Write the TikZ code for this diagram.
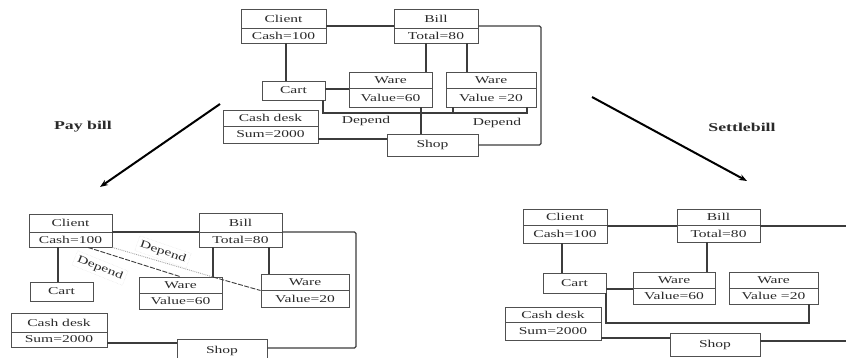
\documentclass[tikz,border=0pt]{standalone}
\usepackage{fontspec}
\setmainfont[FakeStretch=1.48]{Liberation Serif}
\usetikzlibrary{fit,arrows.meta}
\definecolor{ln}{HTML}{3C3C3C}
\definecolor{bx}{HTML}{505050}
\definecolor{tx}{HTML}{2A2A2A}
\tikzset{
 box/.style={draw=bx, line width=0.9pt, inner sep=0pt, rectangle},
 divl/.style={draw=bx, line width=0.8pt},
 txt/.style={inner sep=0pt, text=tx, font=\fontsize{10.5}{12}\selectfont},
 conn/.style={draw=ln, line width=1.2pt},
 bigarrow/.style={draw=black, line width=2pt, -{Stealth[length=8pt,width=6pt]}},
 lbl/.style={inner sep=0pt, text=tx, font=\fontsize{12}{14}\selectfont\bfseries},
 dep/.style={txt, fill=white, inner sep=2pt},
 deprot/.style={txt, draw=gray!25, densely dotted, inner sep=3pt},
 gdot/.style={draw=gray!70, line width=0.9pt, densely dotted},
 ddash/.style={draw=ln, line width=0.9pt, dash pattern=on 5pt off 1.5pt},
}
\newcommand\clsbox[8]{%
 \node[box, fit={(#2,#3)(#4,#6)}] (#1) {};
 \draw[divl] (#2,#5) -- (#4,#5);
 \node[txt] (#1-t) at ({(#2+#4)/2},{(#3+#5)/2}) {#7};
 \node[txt] (#1-b) at ({(#2+#4)/2},{(#5+#6)/2}) {#8};
}
\newcommand\onebox[6]{%
 \node[box, fit={(#2,#3)(#4,#5)}] (#1) {};
 \node[txt] (#1-t) at (#1.center) {#6};
}
\begin{document}
\begin{tikzpicture}[x=1pt,y=-1pt]
\useasboundingbox (0,0) rectangle (846,358);
\clip (0,0) rectangle (846,358);
\fill[white] (0,0) rectangle (846,358);

% ---------------- top diagram ----------------
\clsbox{c1}{241}{9}{326}{28}{43}{Client}{Cash=100}
\clsbox{b1}{394}{9}{478}{28}{43}{Bill}{Total=80}
\onebox{cart1}{262}{81}{325}{100}{Cart}
\clsbox{w1a}{349}{72}{432}{88}{107}{Ware}{Value=60}
\clsbox{w1b}{446}{72}{536}{88}{107}{Ware}{Value =20}
\clsbox{cd1}{223}{110}{318}{126}{143}{Cash desk}{Sum=2000}
\onebox{s1}{387}{134}{478}{156}{Shop}

\coordinate (r1) at (541,0);
\draw[conn] (c1.east) -- (b1.west);
\draw[conn, rounded corners=1.5pt] (b1.east) -- (b1.east -| r1) -- (s1.east -| r1) -- (s1.east);
\coordinate (v1) at (286,0);
\draw[conn] (v1 |- c1.south) -- (v1 |- cart1.north);
\coordinate (v2) at (426,0);
\draw[conn] (v2 |- b1.south) -- (v2 |- w1a.north);
\coordinate (v3) at (467,0);
\draw[conn] (v3 |- b1.south) -- (v3 |- w1b.north);
\coordinate (h1) at (0,89);
\draw[conn] (cart1.east |- h1) -- (w1a.west |- h1);
\coordinate (k1) at (323,0);
\coordinate (k2) at (527,0);
\coordinate (k3) at (453,0);
\coordinate (hb1) at (0,113);
\draw[conn] (k1 |- cart1.south) -- (k1 |- hb1) -- (k2 |- hb1) -- (k2 |- w1b.south);
\draw[conn] (k3 |- w1b.south) -- (k3 |- hb1);
\coordinate (v4) at (421,0);
\draw[conn] (v4 |- w1a.south) -- (v4 |- s1.north);
\coordinate (h2) at (0,139);
\draw[conn] (cd1.east |- h2) -- (s1.west |- h2);
\node[dep] (d1) at (366,121) {Depend};
\node[dep] (d2) at (497,123) {Depend};

% ---------------- arrows and labels ----------------
\coordinate (a1s) at (220,104);
\coordinate (a1e) at (100,187);
\draw[bigarrow] (a1s) -- (a1e);
\node[lbl] (pay) at (83,127) {Pay bill};
\coordinate (a2s) at (592,97);
\coordinate (a2e) at (747,181);
\draw[bigarrow] (a2s) -- (a2e);
\node[lbl] (settle) at (742,127) {Settlebill};

% ---------------- bottom-left diagram ----------------
\clsbox{c2}{29}{214}{112}{232}{247}{Client}{Cash=100}
\clsbox{b2}{199}{213}{282}{232}{247}{Bill}{Total=80}
\onebox{cart2}{30}{282}{93}{301}{Cart}
\clsbox{w2a}{139}{277}{222}{293}{309}{Ware}{Value=60}
\clsbox{w2b}{261}{274}{349}{290}{307}{Ware}{Value=20}
\clsbox{cd2}{11}{313}{107}{332}{347}{Cash desk}{Sum=2000}
\onebox{s2}{177}{339}{267}{362}{Shop}

\coordinate (r2) at (356,0);
\coordinate (h3) at (0,232);
\coordinate (h4) at (0,348);
\draw[conn] (c2.east |- h3) -- (b2.west |- h3);
\draw[conn, rounded corners=1.5pt] (b2.east |- h3) -- (r2 |- h3) -- (r2 |- h4) -- (s2.east |- h4);
\coordinate (v5) at (58,0);
\draw[conn] (v5 |- c2.south) -- (v5 |- cart2.north);
\coordinate (v6) at (213,0);
\draw[conn] (v6 |- b2.south) -- (v6 |- w2a.north);
\coordinate (v7) at (269,0);
\draw[conn] (v7 |- b2.south) -- (v7 |- w2b.north);
\coordinate (h5) at (0,343);
\draw[conn] (cd2.east |- h5) -- (s2.west |- h5);
\coordinate (dA) at (88,0);
\coordinate (dB) at (180,0);
\draw[ddash] (dA |- c2.south) -- (dB |- w2a.north);
\coordinate (jn) at (213,277);
\draw[gdot] (c2.south east) -- (jn);
\draw[ddash] (jn) -- (w2b.west);
\node[deprot, rotate=-19] (d3) at (163,252) {Depend};
\node[deprot, rotate=-22] (d4) at (100,268) {Depend};

% ---------------- bottom-right diagram ----------------
\clsbox{c3}{523}{209}{607}{225}{243}{Client}{Cash=100}
\clsbox{b3}{677}{209}{760}{225}{242}{Bill}{Total=80}
\onebox{cart3}{543}{273}{606}{293}{Cart}
\clsbox{w3a}{633}{272}{715}{288}{304}{Ware}{Value=60}
\clsbox{w3b}{729}{272}{818}{288}{304}{Ware}{Value =20}
\clsbox{cd3}{505}{307}{601}{322}{340}{Cash desk}{Sum=2000}
\onebox{s3}{670}{333}{760}{356}{Shop}

\coordinate (h6) at (0,226);
\coordinate (e1) at (846,226);
\draw[conn] (c3.east |- h6) -- (b3.west |- h6);
\draw[conn] (b3.east |- h6) -- (e1);
\coordinate (v8) at (562,0);
\draw[conn] (v8 |- c3.south) -- (v8 |- cart3.north);
\coordinate (v9) at (707,0);
\draw[conn] (v9 |- b3.south) -- (v9 |- w3a.north);
\coordinate (h7) at (0,289);
\draw[conn] (cart3.east |- h7) -- (w3a.west |- h7);
\coordinate (k4) at (606,0);
\coordinate (k5) at (809,0);
\coordinate (hb2) at (0,323);
\draw[conn] (k4 |- cart3.south) -- (k4 |- hb2) -- (k5 |- hb2) -- (k5 |- w3b.south);
\coordinate (h8) at (0,338);
\draw[conn] (cd3.east |- h8) -- (s3.west |- h8);
\coordinate (h9) at (0,341);
\coordinate (e2) at (846,341);
\draw[conn] (s3.east |- h9) -- (e2);
\end{tikzpicture}
\end{document}
